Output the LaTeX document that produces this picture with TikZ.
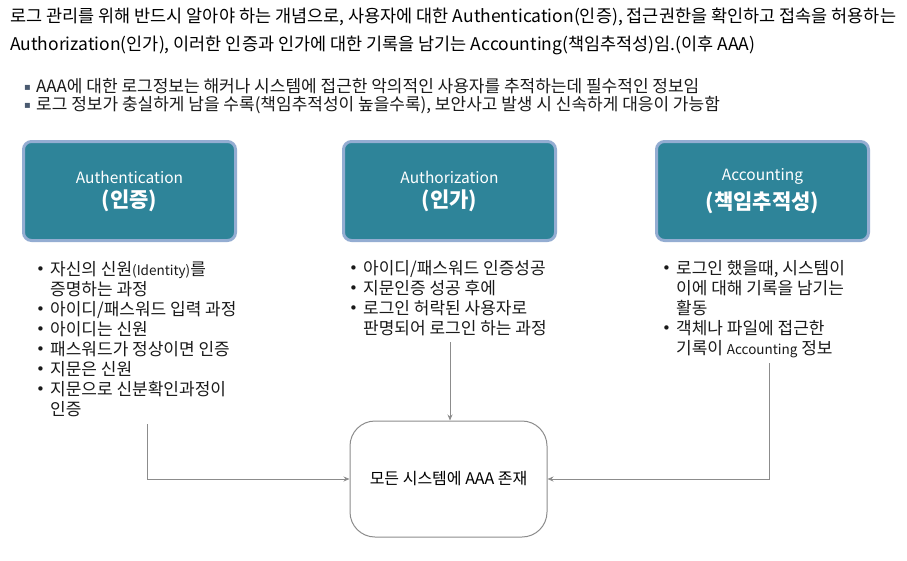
\documentclass[tikz,border=0pt]{standalone}
\usepackage{fontspec}
\setmainfont{Noto Sans CJK KR}
\newfontfamily\dejavu{DejaVu Sans}
\usetikzlibrary{arrows.meta}
\definecolor{tealfill}{HTML}{2E8499}
\definecolor{tealedge}{HTML}{94ADD2}
\definecolor{connc}{HTML}{8C8C8C}
\definecolor{ink}{HTML}{1A1A1A}
\definecolor{sqc}{HTML}{4A5A70}
\newcommand\bul{\makebox[14pt][l]{\raisebox{0.5pt}{\dejavu\fontsize{15}{15}\selectfont •}}}
\newcommand\sqb{\makebox[12pt][l]{\raisebox{1.5pt}{\color{sqc}\dejavu\fontsize{10}{10}\selectfont ▪}}}
\newcommand\ind{\hspace*{14pt}}
\tikzset{
  titlebox/.style={draw=tealedge, line width=3pt, fill=tealfill, rounded corners=8pt,
    minimum width=212pt, minimum height=99pt, text=white, align=center, inner sep=0pt,
    font=\fontsize{15.5}{18}\selectfont},
  listtext/.style={anchor=base west, inner sep=0pt, text=ink, font=\fontsize{17}{20}\selectfont},
  headline/.style={anchor=base west, inner sep=0pt, text=black, font=\fontsize{17.5}{20}\selectfont},
  subline/.style={anchor=base west, inner sep=0pt, text=ink, font=\fontsize{17}{17}\selectfont},
  sysbox/.style={draw=connc, line width=1pt, rounded corners=25pt, fill=white,
    minimum width=197pt, minimum height=116pt, inner sep=0pt, font=\fontsize{16}{20}\selectfont},
  connector/.style={draw=connc, line width=0.9pt, -{Stealth[length=6pt,width=5pt]}}
}
\begin{document}
\begin{tikzpicture}[x=1pt,y=-1pt]
\useasboundingbox[fill=white] (0,0) rectangle (907,560);

% heading
\node[headline] (h1) at (10,22) {로그 관리를 위해 반드시 알아야 하는 개념으로, 사용자에 대한 Authentication(인증), 접근권한을 확인하고 접속을 허용하는};
\node[headline] (h2) at (10,50) {Authorization(인가), 이러한 인증과 인가에 대한 기록을 남기는 Accounting(책임추적성)임.(이후 AAA)};

% sub bullets
\node[subline] (s1) at (24,92) {\sqb AAA에 대한 로그정보는 해커나 시스템에 접근한 악의적인 사용자를 추적하는데 필수적인 정보임};
\node[subline] (s2) at (24,110) {\sqb 로그 정보가 충실하게 남을 수록(책임추적성이 높을수록), 보안사고 발생 시 신속하게 대응이 가능함};

% title boxes
\node[titlebox] (b1) at (129.5,191) {Authentication\\[6pt]{\fontsize{21}{24}\selectfont\bfseries (인증)}};
\node[titlebox] (b2) at (449.5,191) {Authorization\\[6pt]{\fontsize{21}{24}\selectfont\bfseries (인가)}};
\node[titlebox] (b3) at (762.5,191) {Accounting\\[6pt]{\fontsize{21}{24}\selectfont\bfseries (책임추적성)}};

% lists
\node[listtext] (l1) at (36,275) {\begin{tabular}[t]{@{}l@{}}
\bul 자신의 신원{\fontsize{13.5}{13}\selectfont(Identity)}를\\
\ind 증명하는 과정\\
\bul 아이디/패스워드 입력 과정\\
\bul 아이디는 신원\\
\bul 패스워드가 정상이면 인증\\
\bul 지문은 신원\\
\bul 지문으로 신분확인과정이\\
\ind 인증
\end{tabular}};
\node[listtext] (l2) at (349,274) {\begin{tabular}[t]{@{}l@{}}
\bul 아이디/패스워드 인증성공\\
\bul 지문인증 성공 후에\\
\bul 로그인 허락된 사용자로\\
\ind 판명되어 로그인 하는 과정
\end{tabular}};
\node[listtext] (l3) at (662,274) {\begin{tabular}[t]{@{}l@{}}
\bul 로그인 했을때, 시스템이\\
\ind 이에 대해 기록을 남기는\\
\ind 활동\\
\bul 객체나 파일에 접근한\\
\ind 기록이 {\fontsize{13.5}{13}\selectfont Accounting} 정보
\end{tabular}};

% system box
\node[sysbox] (sys) at (448.5,479) {모든 시스템에 AAA 존재};

% connectors
\coordinate (c1) at (147,424);
\coordinate (c2) at (450,342);
\coordinate (c3) at (769,363);
\draw[connector] (c1) |- (sys.west);
\draw[connector] (c2) -- (c2 |- sys.north);
\draw[connector] (c3) |- (sys.east);
\end{tikzpicture}
\end{document}
